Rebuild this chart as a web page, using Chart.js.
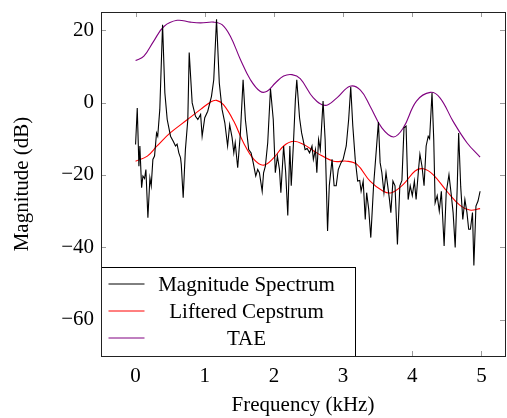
<!DOCTYPE html>
<html>
<head>
<meta charset="utf-8">
<script src="https://cdn.jsdelivr.net/npm/chart.js@4/dist/chart.umd.min.js"></script>
<style>
  html, body { margin: 0; padding: 0; background: #fff; }
  #wrap { width: 507px; height: 418px; position: relative; }
</style>
</head>
<body>
<div id="wrap"><canvas id="chart"></canvas></div>
<script>
// Magnitude spectrum (kHz, dB)
const magFreq = [0, 0.024, 0.048, 0.062, 0.087, 0.106, 0.13, 0.149, 0.178, 0.207, 0.226, 0.25, 0.274, 0.303, 0.32, 0.35, 0.39, 0.423, 0.457, 0.505,
    0.544, 0.577, 0.6, 0.625, 0.65, 0.66, 0.688, 0.72, 0.755, 0.775, 0.818, 0.866, 0.9, 0.94, 0.962, 1.0, 1.043, 1.097, 1.13, 1.17,
    1.21, 1.25, 1.29, 1.33, 1.36, 1.395, 1.42, 1.44, 1.476, 1.515, 1.554, 1.587, 1.635, 1.67, 1.7, 1.737, 1.765, 1.79, 1.83, 1.85,
    1.876, 1.91, 1.95, 1.99, 2.02, 2.05, 2.08, 2.1, 2.14, 2.17, 2.2, 2.23, 2.25, 2.28, 2.31, 2.33, 2.37, 2.4, 2.42, 2.45,
    2.48, 2.515, 2.55, 2.57, 2.6, 2.62, 2.645, 2.67, 2.71, 2.74, 2.775, 2.8, 2.84, 2.87, 2.9, 2.93, 2.97, 3.0, 3.045, 3.08,
    3.11, 3.14, 3.175, 3.21, 3.24, 3.26, 3.29, 3.32, 3.34, 3.37, 3.4, 3.44, 3.48, 3.51, 3.535, 3.56, 3.59, 3.62, 3.645, 3.67,
    3.69, 3.72, 3.75, 3.785, 3.82, 3.85, 3.88, 3.91, 3.94, 3.97, 4.0, 4.03, 4.055, 4.09, 4.11, 4.14, 4.17, 4.2, 4.23, 4.25,
    4.285, 4.31, 4.33, 4.36, 4.39, 4.42, 4.46, 4.49, 4.53, 4.56, 4.59, 4.62, 4.65, 4.67, 4.7, 4.73, 4.76, 4.79, 4.815, 4.84,
    4.87, 4.89, 4.92, 4.95, 4.98];
const magDb = [-11.6, -1.5, -17.6, -12, -23.5, -20.3, -21, -18.5, -31.8, -20.8, -23, -15.7, -14.8, -8.4, -9.3, -1.9, 21.5, 2.7, -4.7, -9.3,
    -10.7, -12, -11.5, -13.9, -15.3, -17, -26.3, -13, -4.7, 13.8, -0.1, -3.8, -4.7, -3.3, -9.3, -4.2, -2.4, 1.7, 6.3, 23,
    5.4, -1.9, -5.6, -12, -6.1, -9.7, -13.9, -11.1, -18, -8.4, 6.3, -4.7, -13, -13.9, -16.6, -20.3, -18.5, -19.4, -24.5, -19.4,
    -17.6, -11.1, 3.8, -4.7, -19.4, -14.8, -18.5, -24.9, -12, -19.4, -31.2, -12, -23, -12, 0.8, 6.3, -4.2, -8.4, -10.2, -13,
    -12.7, -13.9, -12, -15.7, -13, -19.4, -10.2, -13, 0.4, -10.2, -35.5, -23, -15.7, -23, -23, -18.5, -16.6, -15.7, -12, -4.7,
    4.3, -6.5, -15.7, -21.7, -21.5, -24.5, -21.7, -32.3, -24.9, -29.5, -37.3, -23, -13, -5.4, -16.6, -19.4, -24.9, -19.4, -23, -26.8,
    -30.4, -21.7, -23, -39.2, -23, -21.5, -7, -6.5, -26.8, -23, -25.7, -21.7, -26.8, -18.5, -14.3, -17.6, -23, -12, -9.3, -10,
    2.7, -10.2, -27.7, -25.7, -30, -24.5, -39.6, -24.9, -19.9, -24.9, -30.4, -40, -23, -8.4, -23.3, -32.3, -26.8, -30.4, -35, -35,
    -30.4, -45, -28.6, -27.2, -24.5];

// Liftered cepstrum
const cepFreq = [0, 0.17, 0.31, 0.5, 0.75, 0.94, 1.08, 1.17, 1.27, 1.42, 1.56, 1.71, 1.85, 1.995, 2.14, 2.28, 2.43, 2.62, 2.86, 3.05,
    3.2, 3.39, 3.58, 3.7, 3.87, 4.04, 4.16, 4.3, 4.5, 4.69, 4.83, 4.98];
const cepDb = [-16.2, -14.8, -12, -8.4, -4.7, -1.9, 0.1, 0.6, -0.6, -5.2, -11.1, -15.7, -17.3, -15.3, -12, -10.7, -11.6, -13.9, -16.2, -16.2,
    -17.1, -21.7, -24.5, -24.9, -22.6, -18.9, -18.3, -19.9, -24.5, -28.4, -29.7, -29.3];

// True amplitude envelope
const taeFreq = [0, 0.12, 0.26, 0.41, 0.6, 0.79, 0.94, 1.13, 1.25, 1.37, 1.515, 1.66, 1.8, 1.9, 2.02, 2.14, 2.26, 2.38, 2.57, 2.74,
    2.91, 3.1, 3.25, 3.39, 3.56, 3.73, 3.87, 4.06, 4.26, 4.4, 4.59, 4.79, 4.98];
const taeDb = [11.6, 12.8, 16.9, 21, 22.7, 22.2, 22, 22.2, 21.5, 18.3, 11.9, 6.3, 3.1, 3.1, 5.4, 7.3, 7.7, 6.6, 1.3, -0.8,
    1.3, 4.5, 3.4, -1, -7, -9.5, -7, 0.4, 2.8, 1.3, -5.2, -11.1, -15.1];

const xTicks = [0, 1, 2, 3, 4, 5];
const yTicks = [-60, -40, -20, 0, 20];

const seriesNames = ['Magnitude Spectrum', 'Liftered Cepstrum', 'TAE'];
const seriesColors = ['#000000', '#ff0000', '#800080'];

const FONT = "'Liberation Serif', 'DejaVu Serif', serif";

function points(xs, ys) {
    return xs.map(function (v, i) {
        return { x: v, y: ys[i] };
    });
}

function fmt(v) {
    return v < 0 ? '\u2212' + Math.abs(v) : String(v);
}

// pgfplots-style frame, inward ticks and the legend box in the lower left
const framePlugin = {
    id: 'frame',
    afterDatasetsDraw(chart) {
        const ctx = chart.ctx;
        const a = chart.chartArea;
        const sx = chart.scales.x;
        const sy = chart.scales.y;
        ctx.save();
        ctx.lineWidth = 1;
        ctx.strokeStyle = '#9a9a9a';
        ctx.beginPath();
        xTicks.forEach(function (v) {
            const px = Math.round(sx.getPixelForValue(v)) + 0.5;
            ctx.moveTo(px, a.bottom); ctx.lineTo(px, a.bottom - 5);
            ctx.moveTo(px, a.top); ctx.lineTo(px, a.top + 5);
        });
        yTicks.forEach(function (v) {
            const py = Math.round(sy.getPixelForValue(v)) + 0.5;
            ctx.moveTo(a.left, py); ctx.lineTo(a.left + 5, py);
            ctx.moveTo(a.right, py); ctx.lineTo(a.right - 5, py);
        });
        ctx.stroke();

        // legend
        const lx = Math.round(a.left) + 0.5;
        const ly = 267.5;
        const lw = 254;
        const lh = Math.round(a.bottom) - 267;
        ctx.fillStyle = '#fff';
        ctx.fillRect(lx, ly, lw, lh);
        ctx.strokeStyle = '#000';
        ctx.strokeRect(lx, ly, lw, lh);
        ctx.font = '21px ' + FONT;
        ctx.textAlign = 'center';
        ctx.textBaseline = 'middle';
        seriesNames.forEach(function (name, i) {
            const yy = 284 + i * 27;
            ctx.beginPath();
            ctx.strokeStyle = seriesColors[i];
            ctx.moveTo(lx + 7, yy);
            ctx.lineTo(lx + 43, yy);
            ctx.stroke();
            ctx.fillStyle = '#000';
            ctx.fillText(name, lx + 145, yy + 1);
        });

        ctx.strokeStyle = '#222';
        ctx.strokeRect(Math.round(a.left) + 0.5, Math.round(a.top) + 0.5,
            Math.round(a.right - a.left), Math.round(a.bottom - a.top));
        ctx.restore();
    },
};

function lineSet(label, data, color, tension) {
    return {
        label: label,
        data: data,
        borderColor: color,
        backgroundColor: color,
        borderWidth: 1.1,
        pointRadius: 0,
        tension: tension,
        fill: false,
    };
}

new Chart(document.getElementById('chart'), {
    type: 'line',
    data: {
        datasets: [
            lineSet(seriesNames[0], points(magFreq, magDb), seriesColors[0], 0),
            lineSet(seriesNames[1], points(cepFreq, cepDb), seriesColors[1], 0.4),
            lineSet(seriesNames[2], points(taeFreq, taeDb), seriesColors[2], 0.4),
        ],
    },
    options: {
        responsive: true,
        maintainAspectRatio: false,
        animation: false,
        layout: { padding: { left: 0, top: 12, right: 2, bottom: 0 } },
        plugins: {
            legend: { display: false },
            tooltip: { enabled: false },
        },
        scales: {
            x: {
                type: 'linear',
                min: -0.5,
                max: 5.34,
                afterBuildTicks(s) { s.ticks = xTicks.map(function (v) { return { value: v }; }); },
                afterFit(s) { s.height = 62; s.paddingLeft = 0; s.paddingRight = 0; },
                grid: { display: false, drawTicks: false },
                border: { display: false },
                ticks: {
                    color: '#000',
                    padding: 8,
                    font: { family: FONT, size: 21 },
                    callback: function (v) { return fmt(v); },
                },
                title: {
                    display: true,
                    text: 'Frequency (kHz)',
                    color: '#000',
                    font: { family: FONT, size: 21 },
                    padding: { top: 2, bottom: 0 },
                },
            },
            y: {
                min: -70,
                max: 25,
                afterBuildTicks(s) { s.ticks = yTicks.map(function (v) { return { value: v }; }); },
                afterFit(s) { s.width = 101; s.paddingTop = 0; s.paddingBottom = 0; },
                grid: { display: false, drawTicks: false },
                border: { display: false },
                ticks: {
                    color: '#000',
                    padding: 7,
                    font: { family: FONT, size: 21 },
                    callback: function (v) { return fmt(v); },
                },
                title: {
                    display: true,
                    text: 'Magnitude (dB)',
                    color: '#000',
                    font: { family: FONT, size: 21 },
                    padding: { top: 10, bottom: 0 },
                },
            },
        },
    },
    plugins: [framePlugin],
});
</script>
</body>
</html>
